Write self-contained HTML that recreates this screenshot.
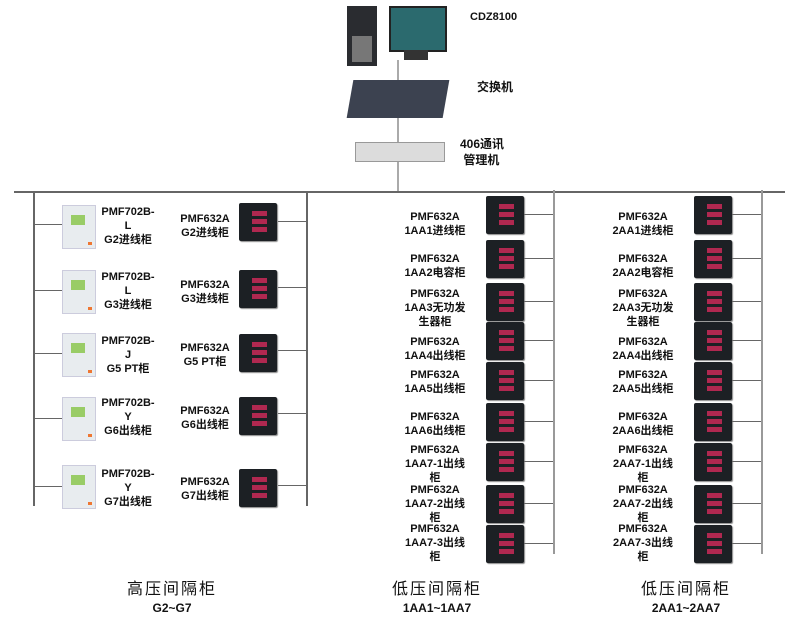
<!DOCTYPE html>
<html><head><meta charset="utf-8"><style>
body{margin:0;width:799px;height:619px;background:#fff;position:relative;overflow:hidden;font-family:"Liberation Sans","Noto Sans CJK SC",sans-serif;font-weight:bold;color:#111}
.a{position:absolute}
.l{position:absolute;background:#666}
.t{position:absolute;font-size:11px;line-height:14px;text-align:center;width:100px}
.m{position:absolute;width:38px;height:38px;background:#1c2024;border-radius:2px;box-shadow:1px 1px 1px #888}
.m i{position:absolute;left:13px;width:15px;height:5px;background:#b02850}
.r{position:absolute;width:32px;height:42px;background:#e8ecef;border:1px solid #ccd}
.r i{position:absolute;left:8px;top:9px;width:14px;height:10px;background:#9c6}
.r b{position:absolute;right:3px;bottom:3px;width:4px;height:3px;background:#e73}
</style></head><body>
<!-- top devices -->
<div class="a" style="left:347px;top:6px;width:30px;height:60px;background:#2a2c30"></div>
<div class="a" style="left:352px;top:36px;width:20px;height:26px;background:#777"></div>
<div class="a" style="left:389px;top:6px;width:54px;height:42px;background:#2b6a6e;border:2px solid #222"></div>
<div class="a" style="left:404px;top:50px;width:24px;height:10px;background:#333"></div>
<div class="l" style="left:397px;top:60px;width:2px;height:132px;background:#aaa"></div>
<div class="a" style="left:350px;top:80px;width:96px;height:38px;background:#3c4250;transform:skewX(-10deg)"></div>
<div class="a" style="left:355px;top:142px;width:88px;height:18px;background:#dcdcdc;border:1px solid #999"></div>
<div class="a" style="left:470px;top:11px;font-size:11px">CDZ8100</div>
<div class="a" style="left:477px;top:78px;font-size:12px">交换机</div>
<div class="a" style="left:460px;top:136px;font-size:12px;line-height:16px">406通讯<br>&nbsp;管理机</div>
<!-- bus -->
<div class="l" style="left:14px;top:191px;width:771px;height:2px"></div>
<!-- left group -->
<div class="l" style="left:33px;top:192px;width:2px;height:314px"></div>
<div class="l" style="left:306px;top:192px;width:2px;height:314px"></div>
<div class="l" style="left:33px;top:224px;width:30px;height:1px"></div>
<div class="l" style="left:33px;top:290px;width:30px;height:1px"></div>
<div class="l" style="left:33px;top:353px;width:30px;height:1px"></div>
<div class="l" style="left:33px;top:418px;width:30px;height:1px"></div>
<div class="l" style="left:33px;top:486px;width:30px;height:1px"></div>
<div class="r" style="left:62px;top:205px"><i></i><b></b></div>
<div class="r" style="left:62px;top:270px"><i></i><b></b></div>
<div class="r" style="left:62px;top:333px"><i></i><b></b></div>
<div class="r" style="left:62px;top:397px"><i></i><b></b></div>
<div class="r" style="left:62px;top:465px"><i></i><b></b></div>
<div class="t" style="left:78px;top:205px">PMF702B-<br>L<br>G2进线柜</div>
<div class="t" style="left:78px;top:270px">PMF702B-<br>L<br>G3进线柜</div>
<div class="t" style="left:78px;top:334px">PMF702B-<br>J<br>G5 PT柜</div>
<div class="t" style="left:78px;top:396px">PMF702B-<br>Y<br>G6出线柜</div>
<div class="t" style="left:78px;top:467px">PMF702B-<br>Y<br>G7出线柜</div>
<div class="t" style="left:155px;top:212px">PMF632A<br>G2进线柜</div>
<div class="t" style="left:155px;top:278px">PMF632A<br>G3进线柜</div>
<div class="t" style="left:155px;top:341px">PMF632A<br>G5 PT柜</div>
<div class="t" style="left:155px;top:404px">PMF632A<br>G6出线柜</div>
<div class="t" style="left:155px;top:475px">PMF632A<br>G7出线柜</div>
<div class="l" style="left:278px;top:221px;width:29px;height:1px"></div>
<div class="l" style="left:278px;top:287px;width:29px;height:1px"></div>
<div class="l" style="left:278px;top:350px;width:29px;height:1px"></div>
<div class="l" style="left:278px;top:413px;width:29px;height:1px"></div>
<div class="l" style="left:278px;top:485px;width:29px;height:1px"></div>
<div class="m" style="left:239px;top:203px"><i style="top:8px"></i><i style="top:16px"></i><i style="top:24px"></i></div>
<div class="m" style="left:239px;top:270px"><i style="top:8px"></i><i style="top:16px"></i><i style="top:24px"></i></div>
<div class="m" style="left:239px;top:334px"><i style="top:8px"></i><i style="top:16px"></i><i style="top:24px"></i></div>
<div class="m" style="left:239px;top:397px"><i style="top:8px"></i><i style="top:16px"></i><i style="top:24px"></i></div>
<div class="m" style="left:239px;top:469px"><i style="top:8px"></i><i style="top:16px"></i><i style="top:24px"></i></div>
<div class="l" style="left:553px;top:190px;width:2px;height:364px;background:#999"></div>
<div class="l" style="left:761px;top:190px;width:2px;height:364px;background:#999"></div>
<div id="rows"></div>
<script>
var rows=[[196,'1AA1进线柜','2AA1进线柜',210],[240,'1AA2电容柜','2AA2电容柜',252],[283,'1AA3无功发<br>生器柜','2AA3无功发<br>生器柜',287],[322,'1AA4出线柜','2AA4出线柜',335],[362,'1AA5出线柜','2AA5出线柜',368],[403,'1AA6出线柜','2AA6出线柜',410],[443,'1AA7-1出线<br>柜','2AA7-1出线<br>柜',443],[485,'1AA7-2出线<br>柜','2AA7-2出线<br>柜',483],[525,'1AA7-3出线<br>柜','2AA7-3出线<br>柜',522]];
var h='';
rows.forEach(function(r){
 [[486,553,435,r[1]],[694,761,643,r[2]]].forEach(function(g){
  h+='<div class="m" style="left:'+g[0]+'px;top:'+r[0]+'px"><i style="top:8px"></i><i style="top:16px"></i><i style="top:24px"></i></div>';
  h+='<div class="l" style="left:'+(g[0]+38)+'px;top:'+(r[0]+18)+'px;width:'+(g[1]-g[0]-38)+'px;height:1px"></div>';
  h+='<div class="t" style="left:'+(g[2]-50)+'px;top:'+r[3]+'px">PMF632A<br>'+g[3]+'</div>';
 });
});
document.getElementById('rows').innerHTML=h;
</script>
<div class="a" style="left:92px;top:581px;width:160px;text-align:center;font-size:16px;line-height:18px;font-weight:normal;letter-spacing:2px">高压间隔柜</div>
<div class="a" style="left:92px;top:602px;width:160px;text-align:center;font-size:12px;line-height:13px">G2~G7</div>
<div class="a" style="left:357px;top:581px;width:160px;text-align:center;font-size:16px;line-height:18px;font-weight:normal;letter-spacing:2px">低压间隔柜</div>
<div class="a" style="left:357px;top:602px;width:160px;text-align:center;font-size:12px;line-height:13px">1AA1~1AA7</div>
<div class="a" style="left:606px;top:581px;width:160px;text-align:center;font-size:16px;line-height:18px;font-weight:normal;letter-spacing:2px">低压间隔柜</div>
<div class="a" style="left:606px;top:602px;width:160px;text-align:center;font-size:12px;line-height:13px">2AA1~2AA7</div>
</body></html>
